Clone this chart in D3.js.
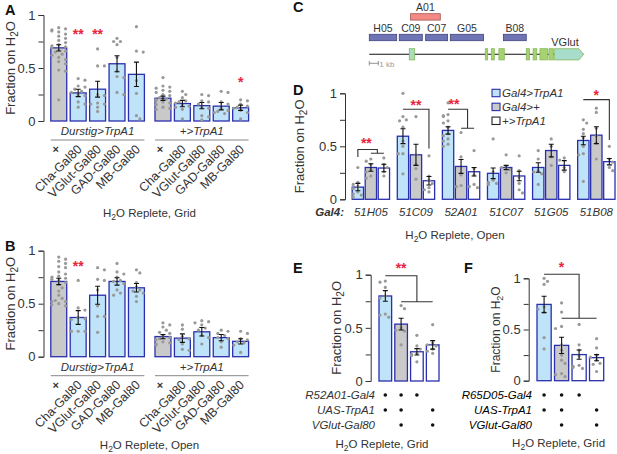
<!DOCTYPE html>
<html>
<head>
<meta charset="utf-8">
<script src="https://cdn.jsdelivr.net/npm/d3@7"></script>
<style>
  html, body { margin: 0; padding: 0; background: #fff; }
  svg { display: block; }
  text { font-family: "Liberation Sans", Arial, sans-serif; fill: #333; }
</style>
</head>
<body>
<svg id="fig" width="617" height="454"></svg>
<script>
// Data
var gal80Labels = ["×", "Cha-Gal80", "VGlut-Gal80", "GAD-Gal80", "MB-Gal80"];
var yTicks = [0, 0.25, 0.5, 0.75, 1];

var aMeans1 = [0.69, 0.265, 0.30, 0.54, 0.44];
var aErrs1 = [0.03, 0.035, 0.075, 0.075, 0.115];
var aPoints1 = [
  [0.88, 0.87, 0.86, 0.85, 0.84, 0.82, 0.80, 0.78, 0.76, 0.74, 0.72, 0.71, 0.70, 0.69, 0.68, 0.66, 0.65, 0.63, 0.62, 0.60, 0.58, 0.56, 0.54, 0.48, 0.47, 0.20],
  [0.40, 0.385, 0.33, 0.32, 0.30, 0.28, 0.27, 0.25, 0.24, 0.18, 0.16, 0.13],
  [0.68, 0.52, 0.52, 0.25, 0.24, 0.17, 0.16, 0.16, 0.13, 0.09],
  [0.78, 0.75, 0.75, 0.72, 0.60, 0.47, 0.42, 0.41, 0.27, 0.25],
  [0.89, 0.66, 0.65, 0.38, 0.26, 0.05, 0.02]
];
var aMeans2 = [0.215, 0.165, 0.145, 0.14, 0.125];
var aErrs2 = [0.02, 0.03, 0.03, 0.035, 0.025];
var aPoints2 = [
  [0.41, 0.33, 0.32, 0.31, 0.29, 0.28, 0.27, 0.25, 0.24, 0.22, 0.21, 0.20, 0.19, 0.18, 0.17, 0.16, 0.15, 0.13, 0.12, 0.11],
  [0.28, 0.25, 0.22, 0.19, 0.18, 0.17, 0.15, 0.14, 0.13, 0.11, 0.02],
  [0.25, 0.24, 0.19, 0.18, 0.16, 0.13, 0.12, 0.05, 0.04, 0.01],
  [0.28, 0.27, 0.18, 0.16, 0.12, 0.10, 0.09, 0.08, 0.07],
  [0.20, 0.19, 0.16, 0.14, 0.13, 0.12, 0.10, 0.08, 0.02]
];

var bMeans1 = [0.71, 0.37, 0.58, 0.71, 0.65];
var bErrs1 = [0.03, 0.065, 0.085, 0.035, 0.04];
var bPoints1 = [
  [0.94, 0.92, 0.90, 0.88, 0.85, 0.84, 0.80, 0.78, 0.76, 0.75, 0.74, 0.73, 0.72, 0.70, 0.68, 0.65, 0.62, 0.58, 0.55, 0.53, 0.52, 0.52, 0.50, 0.49, 0.48],
  [0.72, 0.46, 0.44, 0.37, 0.36, 0.35, 0.24, 0.24, 0.24, 0.24],
  [0.84, 0.82, 0.73, 0.72, 0.63, 0.48, 0.38, 0.38, 0.23],
  [0.88, 0.80, 0.78, 0.75, 0.72, 0.71, 0.69, 0.63, 0.60, 0.58],
  [0.82, 0.79, 0.70, 0.66, 0.63, 0.62, 0.60, 0.57, 0.52]
];
var bMeans2 = [0.19, 0.175, 0.235, 0.18, 0.145];
var bErrs2 = [0.02, 0.04, 0.04, 0.03, 0.025];
var bPoints2 = [
  [0.32, 0.30, 0.28, 0.25, 0.23, 0.22, 0.20, 0.18, 0.17, 0.16, 0.14, 0.13, 0.12, 0.11],
  [0.30, 0.26, 0.19, 0.17, 0.16, 0.12, 0.07, 0.06],
  [0.34, 0.33, 0.32, 0.30, 0.27, 0.25, 0.20, 0.18, 0.12],
  [0.25, 0.24, 0.22, 0.20, 0.18, 0.17, 0.14, 0.09],
  [0.24, 0.22, 0.17, 0.16, 0.14, 0.13, 0.11, 0.04]
];

var dGroups = ["51H05", "51C09", "52A01", "51C07", "51G05", "51B08"];
var dSeries = ["Gal4>TrpA1", "Gal4>+", "+>TrpA1"];
var dMeans = [
  [0.115, 0.30, 0.295], [0.595, 0.42, 0.175], [0.65, 0.31, 0.26],
  [0.245, 0.30, 0.22], [0.30, 0.46, 0.32], [0.555, 0.605, 0.355]
];
var dErrs = [
  [0.035, 0.035, 0.035], [0.07, 0.10, 0.04], [0.035, 0.065, 0.04],
  [0.05, 0.02, 0.045], [0.045, 0.06, 0.045], [0.04, 0.08, 0.03]
];
var dPoints = [
  [[0.30, 0.16, 0.14, 0.12, 0.10, 0.07, 0.05, 0.04, 0.02], [0.38, 0.36, 0.33, 0.28, 0.26, 0.22, 0.20], [0.39, 0.33, 0.30, 0.26, 0.22]],
  [[1.0, 0.78, 0.75, 0.74, 0.68, 0.55, 0.50, 0.43, 0.43, 0.24], [0.78, 0.42, 0.33, 0.29, 0.19], [0.41, 0.22, 0.18, 0.15, 0.11, 0.09, 0.07]],
  [[0.91, 0.80, 0.79, 0.78, 0.74, 0.72, 0.68, 0.62, 0.60, 0.57, 0.55, 0.52, 0.50], [0.63, 0.40, 0.23, 0.13, 0.12], [0.46, 0.29, 0.23, 0.14, 0.12, 0.11]],
  [[0.57, 0.26, 0.18, 0.16, 0.15, 0.14], [0.42, 0.31, 0.30, 0.28, 0.25], [0.41, 0.27, 0.21, 0.15, 0.09, 0.06]],
  [[0.46, 0.38, 0.27, 0.26, 0.24, 0.14], [0.57, 0.50, 0.40, 0.32], [0.39, 0.37, 0.30, 0.26]],
  [[0.75, 0.72, 0.66, 0.62, 0.58, 0.50, 0.43, 0.42, 0.17], [0.86, 0.82, 0.67, 0.60, 0.53, 0.38], [0.50, 0.38, 0.35, 0.30, 0.27]]
];

var eMeans = [0.80, 0.535, 0.275, 0.34];
var eErrs = [0.05, 0.055, 0.03, 0.04];
var ePoints = [
  [0.94, 0.93, 0.88, 0.80, 0.78, 0.63, 0.62, 0.60],
  [0.71, 0.68, 0.50, 0.48, 0.47, 0.34],
  [0.43, 0.33, 0.30, 0.26, 0.25, 0.24, 0.18],
  [0.53, 0.36, 0.34, 0.33, 0.30, 0.28, 0.26]
];
var eRows = ["R52A01-Gal4", "UAS-TrpA1", "VGlut-Gal80"];

var fMeans = [0.745, 0.345, 0.255, 0.225];
var fErrs = [0.08, 0.08, 0.045, 0.03];
var fPoints = [
  [1.0, 0.97, 0.94, 0.72, 0.70, 0.67, 0.42, 0.31],
  [0.76, 0.67, 0.53, 0.51, 0.35, 0.30, 0.25, 0.20, 0.17, 0.07, 0.06, 0.04],
  [0.55, 0.35, 0.30, 0.24, 0.15, 0.14, 0.13, 0.12],
  [0.41, 0.32, 0.25, 0.23, 0.20, 0.17, 0.16, 0.09]
];
var fRows = ["R65D05-Gal4", "UAS-TrpA1", "VGlut-Gal80"];
// which genotype has which transgene, per row
var matrixDots = [[1, 1, 1, 0], [1, 1, 0, 1], [0, 1, 0, 1]];

// Gene diagram, positions in kb
var fragNames = ["H05", "C09", "A01", "C07", "G05", "B08"];
var fragStart = [0, 3.33, 4.59, 6.26, 9, 14.9];
var fragEnd = [3.04, 5.89, 7.89, 8.7, 12.7, 17.44];
var exonStart = [4.44, 12.89, 13.56, 14.4, 17.44, 18.2, 18.96, 19.96];
var exonEnd = [5.04, 13.15, 13.89, 15, 17.8, 18.6, 19.8, 20.44];
var geneLength = 23.8;

var blue = "#bfe3f8", gray = "#c9c9c9", white = "#fff";
var barStroke = "#2a2fae", red = "#e9243f", dotColor = "#999";

var svg = d3.select("#fig");

// spread close values sideways so the dots don't sit on top of each other
function dodge(values, y, maxOff) {
  var placed = [];
  values.slice().sort(d3.descending).forEach(function(v) {
    var off = 0, k = 0, step = 3.4;
    while (k < 9) {
      off = (k % 2 ? 1 : -1) * Math.ceil(k / 2) * step;
      var clash = placed.some(function(p) {
        return Math.hypot(p.off - off, y(p.v) - y(v)) < 4.2;
      });
      if (!clash && Math.abs(off) <= maxOff) break;
      k++;
    }
    placed.push({ v: v, off: Math.max(-maxOff, Math.min(maxOff, off)) });
  });
  return placed;
}

function yAxis(g, y, xPos, labelX, labelSize) {
  var axis = d3.axisLeft(y).tickValues(yTicks).tickSize(5).tickPadding(3)
    .tickFormat(function(d) { return d === 0.5 ? "0.5" : (d === 0 || d === 1) ? String(d) : ""; });
  var a = g.append("g").attr("transform", "translate(" + xPos + ",0)").call(axis);
  a.select(".domain").attr("stroke", "#333").attr("stroke-width", 1);
  a.selectAll(".tick line").attr("stroke", "#333").attr("stroke-width", 1);
  a.selectAll("text").style("font-size", "13px").style("font-family", '"Liberation Sans"').attr("fill", "#333");

  // y axis title with subscript
  var t = g.append("text")
    .attr("transform", "translate(" + labelX + "," + (y(0.5)) + ") rotate(-90)")
    .attr("text-anchor", "middle")
    .style("font-size", labelSize + "px");
  t.append("tspan").text("Fraction on H");
  t.append("tspan").attr("dy", 3).style("font-size", (labelSize - 3) + "px").text("2");
  t.append("tspan").attr("dy", -3).text("O");
}

function h2oTitle(cx, cy, rest) {
  var t = svg.append("text").attr("x", cx).attr("y", cy).attr("text-anchor", "middle").style("font-size", "11.5px");
  t.append("tspan").text("H");
  t.append("tspan").attr("dy", 3).style("font-size", "8.5px").text("2");
  t.append("tspan").attr("dy", -3).text("O " + rest);
}

function drawBars(g, xs, width, y, means, errs, points, fills) {
  means.forEach(function(m, i) {
    var c = xs[i] + width / 2;
    g.append("rect")
      .attr("x", xs[i]).attr("y", y(m))
      .attr("width", width).attr("height", y(0) - y(m))
      .attr("fill", fills[i]).attr("stroke", barStroke).attr("stroke-width", 1.3);
    g.selectAll(null).data(dodge(points[i], y, width / 2 - 1)).join("circle")
      .attr("cx", function(d) { return c + d.off; })
      .attr("cy", function(d) { return y(d.v); })
      .attr("r", 1.6).attr("fill", dotColor);
    var e = errs[i];
    var path = "M" + (c - 2.5) + "," + y(m + e) + "H" + (c + 2.5) + "M" + c + "," + y(m + e) + "V" + y(m - e) + "M" + (c - 2.5) + "," + y(m - e) + "H" + (c + 2.5);
    g.append("path").attr("d", path).attr("fill", "none").attr("stroke", "#111").attr("stroke-width", 1.1);
  });
}

function stars(x, y, s) {
  svg.append("text").attr("x", x).attr("y", y + 7).attr("text-anchor", "middle")
    .style("font-size", "14px").style("fill", red).style("font-weight", "bold").text(s);
}

function bracket(d) {
  svg.append("path").attr("d", d).attr("fill", "none").attr("stroke", "#333").attr("stroke-width", 1.1);
}

function letter(s, x, y) {
  svg.append("text").attr("x", x).attr("y", y).style("font-size", "14.5px").style("font-weight", "bold").style("fill", "#111").text(s);
}

///////////////////////////////////////////////////////////////////////////////
// Panels A and B
function gal80Panel(yTop, yBottom, m1, e1, p1, m2, e2, p2) {
  var g = svg.append("g");
  var y = d3.scaleLinear().domain([0, 1]).range([yBottom, yTop]);
  var x1 = d3.scaleBand().domain(gal80Labels).range([50.8, 144.4]).paddingInner(0.18);
  var x2 = d3.scaleBand().domain(gal80Labels).range([155, 248.6]).paddingInner(0.18);
  var fills = [gray, blue, blue, blue, blue];

  yAxis(g, y, 43.5, 15, 13);
  drawBars(g, gal80Labels.map(x1), x1.bandwidth(), y, m1, e1, p1, fills);
  drawBars(g, gal80Labels.map(x2), x2.bandwidth(), y, m2, e2, p2, fills);

  [[x1, "Durstig>TrpA1"], [x2, "+>TrpA1"]].forEach(function(pair) {
    var x = pair[0], r = x.range();
    g.append("text").attr("x", (r[0] + r[1]) / 2).attr("y", yBottom + 14)
      .attr("text-anchor", "middle").style("font-size", "11.5px").style("font-style", "italic").text(pair[1]);
    g.append("line").attr("x1", r[0]).attr("x2", r[1]).attr("y1", yBottom + 19).attr("y2", yBottom + 19)
      .attr("stroke", "#888").attr("stroke-width", 1);
    gal80Labels.forEach(function(name, i) {
      var cx = x(name) + x.bandwidth() / 2;
      if (i === 0) {
        g.append("text").attr("x", cx - 3).attr("y", yBottom + 32).attr("text-anchor", "middle")
          .style("font-size", "11px").style("font-weight", "bold").text(name);
      } else {
        g.append("text").attr("transform", "translate(" + (cx + 4.4) + "," + (yBottom + 29) + ") rotate(-45)")
          .attr("text-anchor", "end").style("font-size", "12.5px").text(name);
      }
    });
  });
  return { y: y, x1: x1, x2: x2 };
}

var pa = gal80Panel(15, 121, aMeans1, aErrs1, aPoints1, aMeans2, aErrs2, aPoints2);
var xCenterA = function(x, i) { return x(gal80Labels[i]) + x.bandwidth() / 2; };
stars(xCenterA(pa.x1, 1), pa.y(0.84), "**");
stars(xCenterA(pa.x1, 2), pa.y(0.84), "**");
stars(xCenterA(pa.x2, 4), pa.y(0.39), "*");
h2oTitle(149.5, 217, "Replete, Grid");

var pb = gal80Panel(250.7, 356.7, bMeans1, bErrs1, bPoints1, bMeans2, bErrs2, bPoints2);
stars(xCenterA(pb.x1, 1), pb.y(0.87), "**");
h2oTitle(149.5, 449, "Replete, Open");

///////////////////////////////////////////////////////////////////////////////
// Panel C, gene diagram
var kb = d3.scaleLinear().domain([0, 1]).range([369.3, 378.3]);
fragNames.forEach(function(name, i) {
  var top = name === "A01" ? 13.7 : 34.3;
  svg.append("rect").attr("x", kb(fragStart[i])).attr("y", top)
    .attr("width", kb(fragEnd[i]) - kb(fragStart[i])).attr("height", 6.4)
    .attr("fill", name === "A01" ? "#f28a86" : "#6f74b4")
    .attr("stroke", name === "A01" ? "#a85550" : "#41457f").attr("stroke-width", 0.8);
  svg.append("text").attr("x", kb((fragStart[i] + fragEnd[i]) / 2)).attr("y", top - 2.4)
    .attr("text-anchor", "middle").style("font-size", "10.5px").text(name);
});
svg.append("line").attr("x1", kb(0)).attr("x2", kb(geneLength)).attr("y1", 54.3).attr("y2", 54.3)
  .attr("stroke", "#111").attr("stroke-width", 1.1);
exonStart.forEach(function(s, i) {
  svg.append("rect").attr("x", kb(s)).attr("y", 48.7)
    .attr("width", kb(exonEnd[i]) - kb(s)).attr("height", 11.2)
    .attr("fill", i === 0 ? "#a9dcc0" : "#a6d36f").attr("stroke", "#86b85a").attr("stroke-width", 0.8);
});
// 3' UTR arrow
svg.append("path")
  .attr("d", "M" + kb(20.55) + ",48.7H" + kb(23.3) + "L" + kb(23.8) + ",54.3L" + kb(23.3) + ",59.9H" + kb(20.55) + "Z")
  .attr("fill", "#a8dccb").attr("stroke", "#86b85a").attr("stroke-width", 0.8);
svg.append("text").attr("x", 565).attr("y", 46).attr("text-anchor", "middle").style("font-size", "11px").text("VGlut");
svg.append("path").attr("d", "M" + kb(0) + ",61V65.5M" + kb(0) + ",63.3H" + kb(1) + "M" + kb(1) + ",61V65.5")
  .attr("fill", "none").attr("stroke", "#888").attr("stroke-width", 0.9);
svg.append("text").attr("x", kb(1) + 1).attr("y", 67).style("font-size", "8px").style("fill", "#999").text("1 kb");

///////////////////////////////////////////////////////////////////////////////
// Panel D
var gD = svg.append("g");
var yD = d3.scaleLinear().domain([0, 1]).range([199.3, 93.3]);
var xD = d3.scaleBand().domain(dGroups).range([352.2, 615]).paddingInner(0.172);
var xDInner = d3.scaleBand().domain(dSeries).range([0, xD.bandwidth()]).paddingInner(0.13);
var dFills = [blue, gray, white];
yAxis(gD, yD, 345, 304, 13);

dGroups.forEach(function(name, i) {
  var xs = dSeries.map(function(s) { return xD(name) + xDInner(s); });
  drawBars(gD, xs, xDInner.bandwidth(), yD, dMeans[i], dErrs[i], dPoints[i], dFills);
  gD.append("text").attr("x", xD(name) + xD.bandwidth() / 2).attr("y", 216)
    .attr("text-anchor", "middle").style("font-size", "11.5px").style("font-style", "italic").text(name);
});
gD.append("text").attr("x", 344).attr("y", 216).attr("text-anchor", "end")
  .style("font-size", "11.5px").style("font-style", "italic").style("font-weight", "bold").text("Gal4:");
h2oTitle(455, 239, "Replete, Open");

function cD(group, s) { return xD(dGroups[group]) + xDInner(dSeries[s]) + xDInner.bandwidth() / 2; }
var midD = function(g) { return (cD(g, 1) + cD(g, 2)) / 2; };
bracket("M" + cD(0, 0) + "," + yD(0.40) + "V" + yD(0.47) + "H" + midD(0) + "V" + yD(0.435) + "M" + cD(0, 1) + "," + yD(0.435) + "H" + cD(0, 2));
bracket("M" + cD(1, 0) + "," + yD(0.85) + "H" + cD(1, 2) + "V" + yD(0.48));
bracket("M" + cD(2, 0) + "," + yD(0.85) + "H" + midD(2) + "V" + yD(0.67) + "M" + cD(2, 1) + "," + yD(0.67) + "H" + cD(2, 2));
bracket("M" + cD(5, 0) + "," + yD(0.94) + "H" + cD(5, 2) + "V" + yD(0.56));
stars(midD(0) - 11, yD(0.55), "**");
stars(cD(1, 1), yD(0.91), "**");
stars(cD(2, 1) - 7, yD(0.92), "**");
stars(cD(5, 1), yD(1.0), "*");

// legend
dSeries.forEach(function(s, i) {
  var ly = 89.3 + i * 13.9;
  gD.append("rect").attr("x", 492).attr("y", ly).attr("width", 8).attr("height", 7.4)
    .attr("fill", dFills[i]).attr("stroke", i === 2 ? "#222" : barStroke).attr("stroke-width", 1.1);
  gD.append("text").attr("x", 502).attr("y", ly + 8).style("font-size", "11.5px").style("font-style", "italic").text(s);
});

///////////////////////////////////////////////////////////////////////////////
// Panels E and F
function matrixPanel(opts) {
  var g = svg.append("g");
  var y = d3.scaleLinear().domain([0, 1]).range(opts.yRange);
  var x = d3.scaleBand().domain(d3.range(4)).range(opts.xRange).paddingInner(opts.pad);
  yAxis(g, y, opts.axisX, opts.labelX, opts.labelSize);
  drawBars(g, d3.range(4).map(x), x.bandwidth(), y, opts.means, opts.errs, opts.points, [blue, gray, white, white]);
  var c = function(i) { return x(i) + x.bandwidth() / 2; };
  opts.rows.forEach(function(name, r) {
    var ry = 395 + r * 15;
    g.append("text").attr("x", opts.rowEnd).attr("y", ry + 4).attr("text-anchor", "end")
      .style("font-size", "11.5px").style("font-style", "italic").style("fill", opts.rowColor).text(name);
    matrixDots[r].forEach(function(on, i) {
      if (on) g.append("circle").attr("cx", c(i)).attr("cy", ry).attr("r", 1.8).attr("fill", "#111");
    });
  });
  bracket("M" + c(0) + "," + y(opts.top) + "H" + c(2) + "V" + y(opts.low) + "M" + c(1) + "," + y(opts.low) + "H" + c(3));
  stars((c(0) + c(2)) / 2, y(opts.starAt), opts.star);
}

matrixPanel({
  yRange: [381, 274.7], xRange: [379, 439], pad: 0.2, axisX: 370.7, labelX: 341, labelSize: 13,
  means: eMeans, errs: eErrs, points: ePoints, rows: eRows, rowEnd: 375, rowColor: "#333",
  top: 0.99, low: 0.745, starAt: 1.08, star: "**"
});
h2oTitle(382, 448, "Replete, Grid");

matrixPanel({
  yRange: [380.7, 278.3], xRange: [537, 603.7], pad: 0.19, axisX: 528.7, labelX: 500, labelSize: 12,
  means: fMeans, errs: fErrs, points: fPoints, rows: fRows, rowEnd: 532, rowColor: "#000",
  top: 1.04, low: 0.61, starAt: 1.13, star: "*"
});
h2oTitle(558.6, 447, "Replete, Grid");

letter("A", 5, 15);
letter("B", 5, 251);
letter("C", 293, 12);
letter("D", 293, 95);
letter("E", 293, 273);
letter("F", 464, 273);
</script>
</body>
</html>
